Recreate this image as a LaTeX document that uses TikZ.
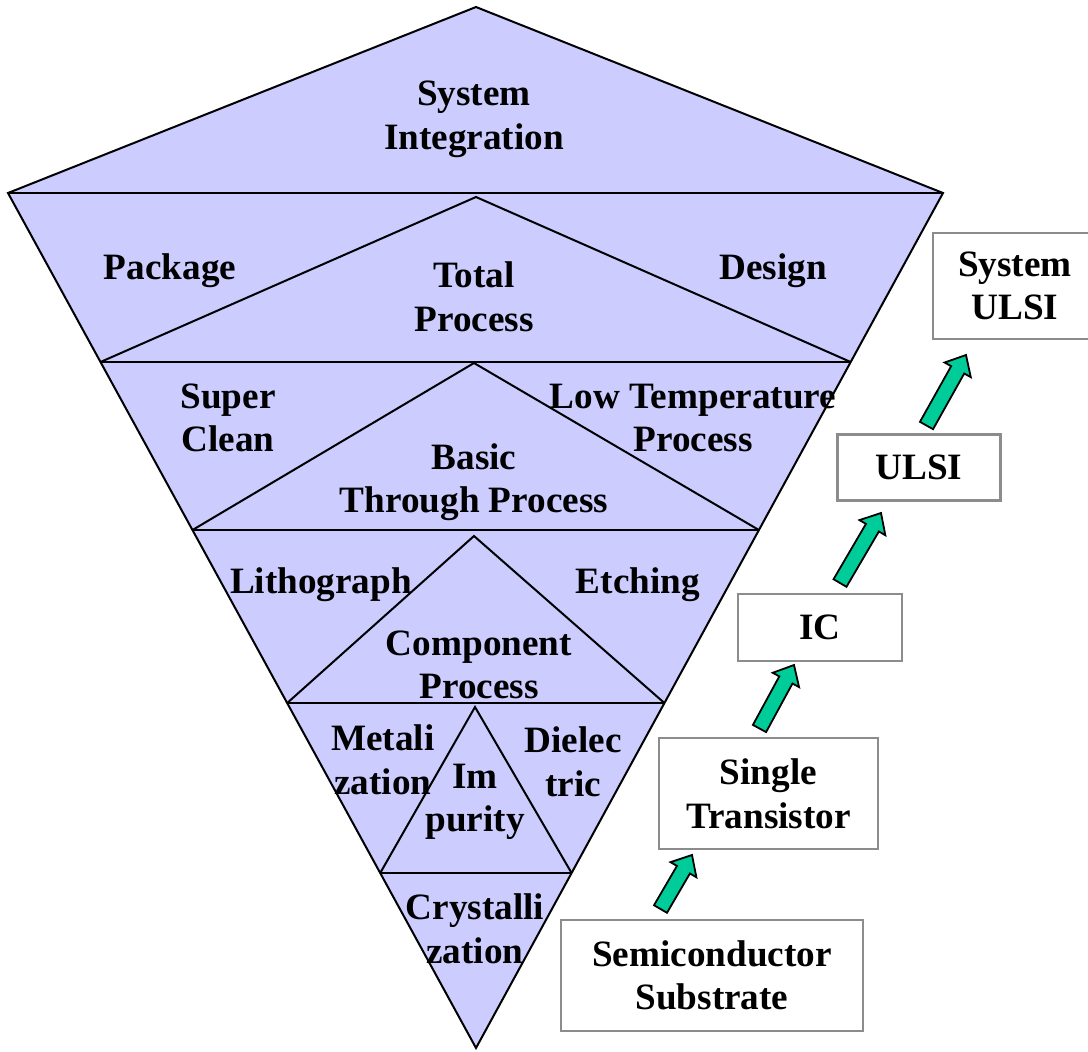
\documentclass[tikz,border=0pt]{standalone}
\usepackage{fontspec}
\setmainfont{Liberation Serif}
\usetikzlibrary{calc}

\definecolor{lavender}{RGB}{204,204,255}
\definecolor{stepgreen}{RGB}{0,204,153}
\definecolor{boxgray}{RGB}{140,140,140}

\tikzset{
  layer/.style={font=\fontsize{18.6}{21.8}\selectfont\bfseries, align=center},
  stagebox/.style={layer, draw=boxgray, line width=1.2pt, fill=white, inner sep=0pt},
  arrowfill/.style={fill=stepgreen, draw=black, line width=0.9pt, line join=miter},
}

% block arrow from #1 (middle of tail) to #2 (tip)
\newcommand{\steparrow}[2]{%
  \coordinate (neck) at ($(#2)!8.5pt!(#1)$);
  \filldraw[arrowfill] ($(#1)!3.75pt!90:(#2)$) -- ($(neck)!3.75pt!90:(#2)$)
    -- ($(neck)!7.5pt!90:(#2)$) -- (#2) -- ($(neck)!7.5pt!-90:(#2)$)
    -- ($(neck)!3.75pt!-90:(#2)$) -- ($(#1)!3.75pt!-90:(#2)$) -- cycle;
}

\begin{document}
\begin{tikzpicture}[x=0.5pt, y=-0.5pt]
    \useasboundingbox (0, 0) rectangle (1088, 1051);
    \clip (0, 0) rectangle (1088, 1051);

    \coordinate (T) at (476, 7);
    \coordinate (L) at (8, 193);
    \coordinate (R) at (943, 193);
    \coordinate (B) at (476, 1048);

    \coordinate (l2) at (100.5, 362);
    \coordinate (r2) at (850.7, 362);
    \coordinate (l3) at (192.5, 530);
    \coordinate (r3) at (758.9, 530);
    \coordinate (l4) at (287.2, 703);
    \coordinate (r4) at (664.4, 703);
    \coordinate (l5) at (380.2, 873);
    \coordinate (r5) at (571.6, 873);

    \coordinate (p1) at (476, 197);
    \coordinate (p2) at (474, 363);
    \coordinate (p3) at (474, 536);
    \coordinate (p4) at (475, 707);

    \filldraw[fill=lavender, line width=1pt, line join=miter] (T) -- (R) -- (B) -- (L) -- cycle;
    \draw[line width=1pt] (L) -- (R);
    \draw[line width=1pt] (l2) -- (r2);
    \draw[line width=1pt] (l3) -- (r3);
    \draw[line width=1pt] (l4) -- (r4);
    \draw[line width=1pt] (l5) -- (r5);

    \draw[line width=1pt] (l2) -- (p1) -- (r2);
    \draw[line width=1pt] (l3) -- (p2) -- (r3);
    \draw[line width=1pt] (l4) -- (p3) -- (r4);
    \draw[line width=1pt] (l5) -- (p4) -- (r5);

    \node[layer] (sysint) at (474, 119) {System\\Integration};
    \node[layer] (package) at (170, 271) {Package};
    \node[layer] (total) at (474, 297) {Total\\Process};
    \node[layer] (design) at (773, 271) {Design};
    \node[layer] (superclean) at (228, 418) {Super\\Clean};
    \node[layer] (lowtemp) at (693, 418) {Low Temperature\\Process};
    \node[layer] (basic) at (474, 482) {Basic\\Through Process};
    \node[layer] (litho) at (321, 585) {Lithograph};
    \node[layer] (etching) at (638, 585) {Etching};
    \node[layer] (component) at (479, 665) {Component\\Process};
    \node[layer] (metal) at (383, 760) {Metali\\zation};
    \node[layer] (impurity) at (475, 802) {Im\\purity};
    \node[layer] (dielec) at (573, 762) {Dielec\\tric};
    \node[layer] (crystal) at (475, 929) {Crystalli\\zation};

    \node[stagebox, minimum width=151pt, minimum height=55.5pt] (substrate) at (712, 975.5) {Semiconductor\\Substrate};
    \node[stagebox, minimum width=109.5pt, minimum height=55.5pt] (single) at (768.5, 793.5) {Single\\Transistor};
    \node[stagebox, minimum width=82pt, minimum height=33.5pt] (ic) at (820, 627.5) {IC};
    \node[stagebox, minimum width=81.5pt, minimum height=33pt] (ulsi) at (919, 467.5) {ULSI};
    \node[stagebox, minimum width=82pt, minimum height=53pt] (sysulsi) at (1015, 286) {System\\ULSI};

    \coordinate (a1s) at (660.5, 909);
    \coordinate (a1t) at (692, 855);
    \coordinate (a2s) at (759.5, 728.5);
    \coordinate (a2t) at (794, 665);
    \coordinate (a3s) at (840, 583);
    \coordinate (a3t) at (881, 513);
    \coordinate (a4s) at (926.5, 425.5);
    \coordinate (a4t) at (966, 355);

    \steparrow{a1s}{a1t}
    \steparrow{a2s}{a2t}
    \steparrow{a3s}{a3t}
    \steparrow{a4s}{a4t}
\end{tikzpicture}
\end{document}
